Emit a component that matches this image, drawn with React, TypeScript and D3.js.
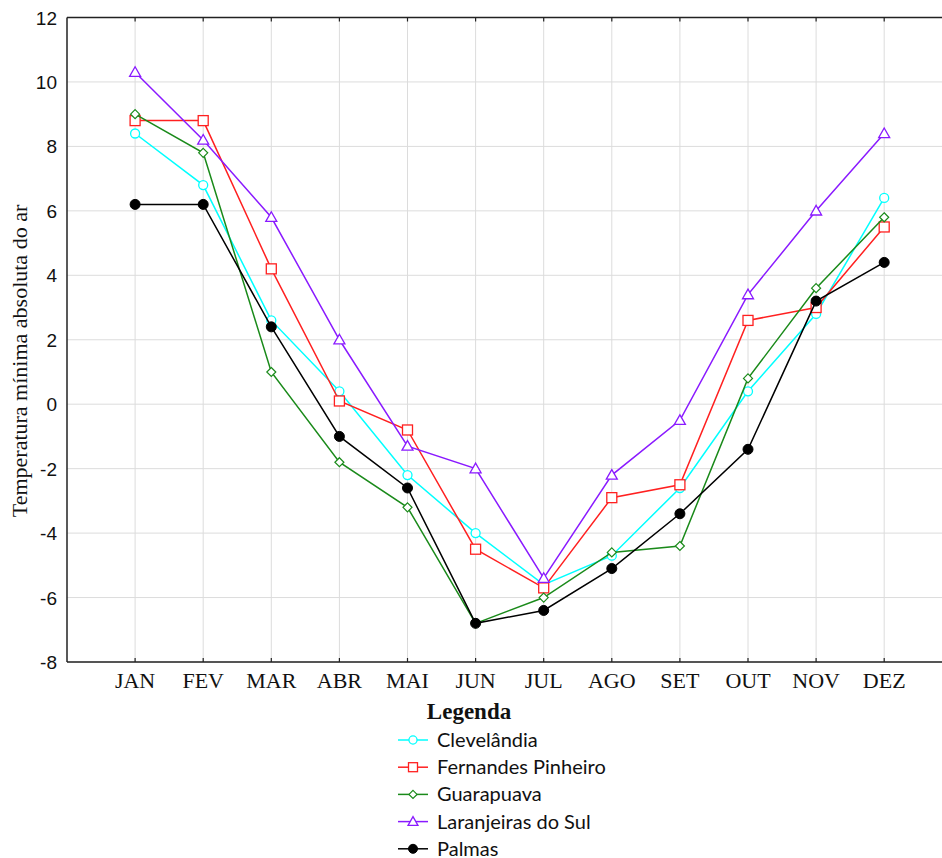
import React, { useEffect, useRef } from 'react';
import * as d3 from 'd3';

const months = ['JAN', 'FEV', 'MAR', 'ABR', 'MAI', 'JUN', 'JUL', 'AGO', 'SET', 'OUT', 'NOV', 'DEZ'];
const yTicks = [-8, -6, -4, -2, 0, 2, 4, 6, 8, 10, 12];

const clevelandia = [8.4, 6.8, 2.6, 0.4, -2.2, -4.0, -5.6, -4.7, -2.6, 0.4, 2.8, 6.4];
const fernandesPinheiro = [8.8, 8.8, 4.2, 0.1, -0.8, -4.5, -5.7, -2.9, -2.5, 2.6, 3.0, 5.5];
const guarapuava = [9.0, 7.8, 1.0, -1.8, -3.2, -6.8, -6.0, -4.6, -4.4, 0.8, 3.6, 5.8];
const laranjeiras = [10.3, 8.2, 5.8, 2.0, -1.3, -2.0, -5.4, -2.2, -0.5, 3.4, 6.0, 8.4];
const palmas = [6.2, 6.2, 2.4, -1.0, -2.6, -6.8, -6.4, -5.1, -3.4, -1.4, 3.2, 4.4];

const series = [
  { name: 'Clevelândia', values: clevelandia, color: '#00ffff', marker: 'circle' },
  { name: 'Fernandes Pinheiro', values: fernandesPinheiro, color: '#ff2020', marker: 'square' },
  { name: 'Guarapuava', values: guarapuava, color: '#1a8a1a', marker: 'diamond' },
  { name: 'Laranjeiras do Sul', values: laranjeiras, color: '#8a1aff', marker: 'triangle' },
  { name: 'Palmas', values: palmas, color: '#000000', marker: 'dot' },
];

const App = () => {
  const svgRef = useRef(null);

  useEffect(() => {
    const W = 942, H = 858;
    const left = 67, top = 17.5, bottom = 662;

    const svg = d3.select(svgRef.current);
    svg.selectAll('*').remove();

    svg.append('rect').attr('width', W).attr('height', H).attr('fill', '#fff');

    // x: positions 1..12 on a 0..13 domain
    const x = d3.scaleLinear().domain([0, 13]).range([left, left + 13 * 68.1]);
    const y = d3.scaleLinear().domain([-8, 12]).range([bottom, top]);

    // grid
    const grid = svg.append('g');
    grid.selectAll('line.h')
      .data(yTicks)
      .enter()
      .append('line')
      .attr('x1', left).attr('x2', W)
      .attr('y1', d => y(d)).attr('y2', d => y(d))
      .attr('stroke', '#dcdcdc').attr('stroke-width', 1);
    grid.selectAll('line.v')
      .data(months)
      .enter()
      .append('line')
      .attr('x1', (d, i) => x(i + 1)).attr('x2', (d, i) => x(i + 1))
      .attr('y1', top).attr('y2', bottom)
      .attr('stroke', '#dcdcdc').attr('stroke-width', 1);

    // frame
    svg.append('line').attr('x1', left).attr('x2', W).attr('y1', top).attr('y2', top)
      .attr('stroke', '#222').attr('stroke-width', 1.5);
    svg.append('line').attr('x1', left).attr('x2', W).attr('y1', bottom).attr('y2', bottom)
      .attr('stroke', '#222').attr('stroke-width', 1.5);
    svg.append('line').attr('x1', left).attr('x2', left).attr('y1', top).attr('y2', bottom)
      .attr('stroke', '#222').attr('stroke-width', 1.5);

    // inward ticks on top and bottom
    months.forEach((m, i) => {
      svg.append('line').attr('x1', x(i + 1)).attr('x2', x(i + 1))
        .attr('y1', top).attr('y2', top + 4).attr('stroke', '#222').attr('stroke-width', 1.2);
      svg.append('line').attr('x1', x(i + 1)).attr('x2', x(i + 1))
        .attr('y1', bottom).attr('y2', bottom - 4).attr('stroke', '#222').attr('stroke-width', 1.2);
    });

    // y tick labels
    svg.append('g').selectAll('text')
      .data(yTicks)
      .enter()
      .append('text')
      .attr('x', 57)
      .attr('y', d => y(d) + 7)
      .attr('text-anchor', 'end')
      .attr('font-family', '"Liberation Sans", Arial, sans-serif')
      .attr('font-size', 19)
      .attr('fill', '#111')
      .text(d => d);

    // x tick labels
    svg.append('g').selectAll('text')
      .data(months)
      .enter()
      .append('text')
      .attr('x', (d, i) => x(i + 1))
      .attr('y', 688)
      .attr('text-anchor', 'middle')
      .attr('font-family', '"Liberation Serif", "Times New Roman", serif')
      .attr('font-size', 22)
      .attr('fill', '#111')
      .text(d => d);

    // y title
    svg.append('text')
      .attr('transform', 'translate(27, 361) rotate(-90)')
      .attr('text-anchor', 'middle')
      .attr('font-family', '"Liberation Serif", "Times New Roman", serif')
      .attr('font-size', 22)
      .attr('fill', '#111')
      .text('Temperatura mínima absoluta do ar');

    const drawMarker = (g, s, cx, cy, scale = 1) => {
      if (s.marker === 'circle') {
        g.append('circle').attr('cx', cx).attr('cy', cy).attr('r', 4.5 * scale)
          .attr('fill', '#fff').attr('stroke', s.color).attr('stroke-width', 1.3);
      } else if (s.marker === 'square') {
        const h = 5 * scale;
        g.append('rect').attr('x', cx - h).attr('y', cy - h).attr('width', 2 * h).attr('height', 2 * h)
          .attr('fill', '#fff').attr('stroke', s.color).attr('stroke-width', 1.3);
      } else if (s.marker === 'diamond') {
        const h = 4.5 * scale;
        g.append('path').attr('d', `M${cx},${cy - h}L${cx + h},${cy}L${cx},${cy + h}L${cx - h},${cy}Z`)
          .attr('fill', '#fff').attr('stroke', s.color).attr('stroke-width', 1.2);
      } else if (s.marker === 'triangle') {
        const h = 5.5 * scale;
        g.append('path').attr('d', `M${cx},${cy - h}L${cx + h},${cy + h * 0.75}L${cx - h},${cy + h * 0.75}Z`)
          .attr('fill', '#fff').attr('stroke', s.color).attr('stroke-width', 1.3);
      } else {
        g.append('circle').attr('cx', cx).attr('cy', cy).attr('r', 5 * scale)
          .attr('fill', s.color).attr('stroke', s.color);
      }
    };

    const line = d3.line()
      .x((d, i) => x(i + 1))
      .y(d => y(d));

    series.forEach(s => {
      const g = svg.append('g');
      g.append('path')
        .attr('d', line(s.values))
        .attr('fill', 'none')
        .attr('stroke', s.color)
        .attr('stroke-width', 1.5);
      s.values.forEach((v, i) => drawMarker(g, s, x(i + 1), y(v)));
    });

    // legend
    svg.append('text')
      .attr('x', 469).attr('y', 719)
      .attr('text-anchor', 'middle')
      .attr('font-family', '"Liberation Serif", "Times New Roman", serif')
      .attr('font-weight', 'bold')
      .attr('font-size', 23)
      .attr('fill', '#111')
      .text('Legenda');

    series.forEach((s, i) => {
      const ly = 740 + i * 27.2;
      const g = svg.append('g');
      g.append('line').attr('x1', 398).attr('x2', 428).attr('y1', ly).attr('y2', ly)
        .attr('stroke', s.color).attr('stroke-width', 1.5);
      drawMarker(g, s, 413, ly, 0.9);
      g.append('text')
        .attr('x', 437).attr('y', ly + 7)
        .attr('font-family', 'Lato, "Open Sans", sans-serif')
        .attr('font-size', 20)
        .attr('fill', '#111')
        .text(s.name);
    });
  }, []);

  return (
    <svg
      ref={svgRef}
      width={942}
      height={858}
      style={{ position: 'absolute', left: 0, top: 0, display: 'block' }}
    ></svg>
  );
};

export default App;
